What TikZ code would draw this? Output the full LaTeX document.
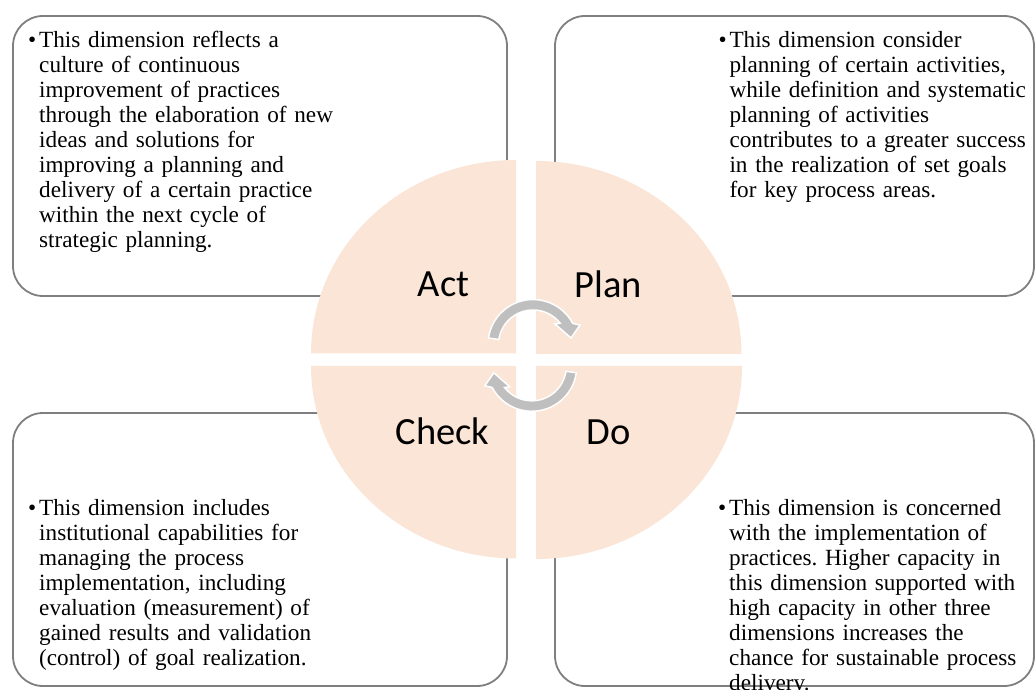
\documentclass[tikz,border=0pt]{standalone}
\usepackage{fontspec}
\setmainfont{Liberation Serif}
\newfontfamily\lblfont{Carlito}
\usetikzlibrary{calc}
\definecolor{peach}{HTML}{FBE5D6}
\definecolor{boxgray}{HTML}{7F7F7F}
\definecolor{arrowgray}{HTML}{BFBFBF}
\frenchspacing
\begin{document}
\begin{tikzpicture}[x=1pt,y=1pt]
\tikzset{
  dimbox/.style={draw=boxgray, line width=1.8pt, rounded corners=30pt, fill=white, inner sep=0pt},
  quad/.style={fill=peach},
  lbl/.style={font=\lblfont\fontsize{38.5}{40}\selectfont, anchor=base, inner sep=0pt},
  txt/.style={font=\fontsize{23.2}{25}\selectfont, anchor=base west, inner sep=0pt, text width=330pt, align=left},
  cyc/.style={fill=arrowgray, draw=white, line width=1.5pt, line join=miter},
}
\useasboundingbox (0,0) rectangle (1036,689);
\clip (0,0) rectangle (1036,689);
% boxes
\node[dimbox, minimum width=494pt, minimum height=280pt] (boxact) at (260,533) {};
\node[dimbox, minimum width=479pt, minimum height=280pt] (boxplan) at (794.5,533) {};
\node[dimbox, minimum width=494pt, minimum height=273pt] (boxcheck) at (260,139.5) {};
\node[dimbox, minimum width=479pt, minimum height=273pt] (boxdo) at (794.5,139.5) {};
% quadrants
\fill[quad] (516,335.5) -- (311,335.5) arc[start angle=180, end angle=90, x radius=205, y radius=193.5] -- cycle;
\fill[quad] (536,335) -- (536,528) arc[start angle=90, end angle=0, x radius=205.5, y radius=193] -- cycle;
\fill[quad] (516,323) -- (311,323) arc[start angle=180, end angle=270, x radius=205, y radius=192.5] -- cycle;
\fill[quad] (536,323) -- (536,130) arc[start angle=270, end angle=360, x radius=206, y radius=193] -- cycle;
% labels
\node[lbl] (act) at (443.5,392.3) {Act};
\node[lbl] (plan) at (608,391.3) {Plan};
\node[lbl] (check) at (442.5,245) {Check};
\node[lbl] (do) at (608.5,245) {Do};
% cycle arrows
\coordinate (c1) at (533,344.5);
\coordinate (c2) at (531.8,322.7);
\draw[cyc] ($(c1)+(171.7:45)$) arc[start angle=171.7, end angle=28, radius=45]
  -- (580,364) -- (571,351) -- (555,365) -- ($(c1)+(38:34.5)$)
  arc[start angle=38, end angle=171.7, radius=34.5] -- cycle;
\draw[cyc] ($(c2)+(351.7:45)$) arc[start angle=351.7, end angle=208, radius=45]
  -- (484.8,303.2) -- (493.8,316.2) -- (509.8,302.2) -- ($(c2)+(218:34.5)$)
  arc[start angle=218, end angle=351.7, radius=34.5] -- cycle;
% texts
\node[txt] (tact) at (39,641) {\leavevmode\llap{\makebox[11pt][l]{\textbullet}}This dimension reflects a\\
culture of continuous\\
improvement of practices\\
through the elaboration of new\\
ideas and solutions for\\
improving a planning and\\
delivery of a certain practice\\
within the next cycle of\\
strategic planning.};
\node[txt] (tplan) at (729.3,641) {\leavevmode\llap{\makebox[11pt][l]{\textbullet}}This dimension consider\\
planning of certain activities,\\
while definition and systematic\\
planning of activities\\
contributes to a greater success\\
in the realization of set goals\\
for key process areas.};
\node[txt] (tcheck) at (39,174) {\leavevmode\llap{\makebox[11pt][l]{\textbullet}}This dimension includes\\
institutional capabilities for\\
managing the process\\
implementation, including\\
evaluation (measurement) of\\
gained results and validation\\
(control) of goal realization.};
\node[txt] (tdo) at (729,174) {\leavevmode\llap{\makebox[11pt][l]{\textbullet}}This dimension is concerned\\
with the implementation of\\
practices. Higher capacity in\\
this dimension supported with\\
high capacity in other three\\
dimensions increases the\\
chance for sustainable process\\
delivery.};
\end{tikzpicture}
\end{document}
